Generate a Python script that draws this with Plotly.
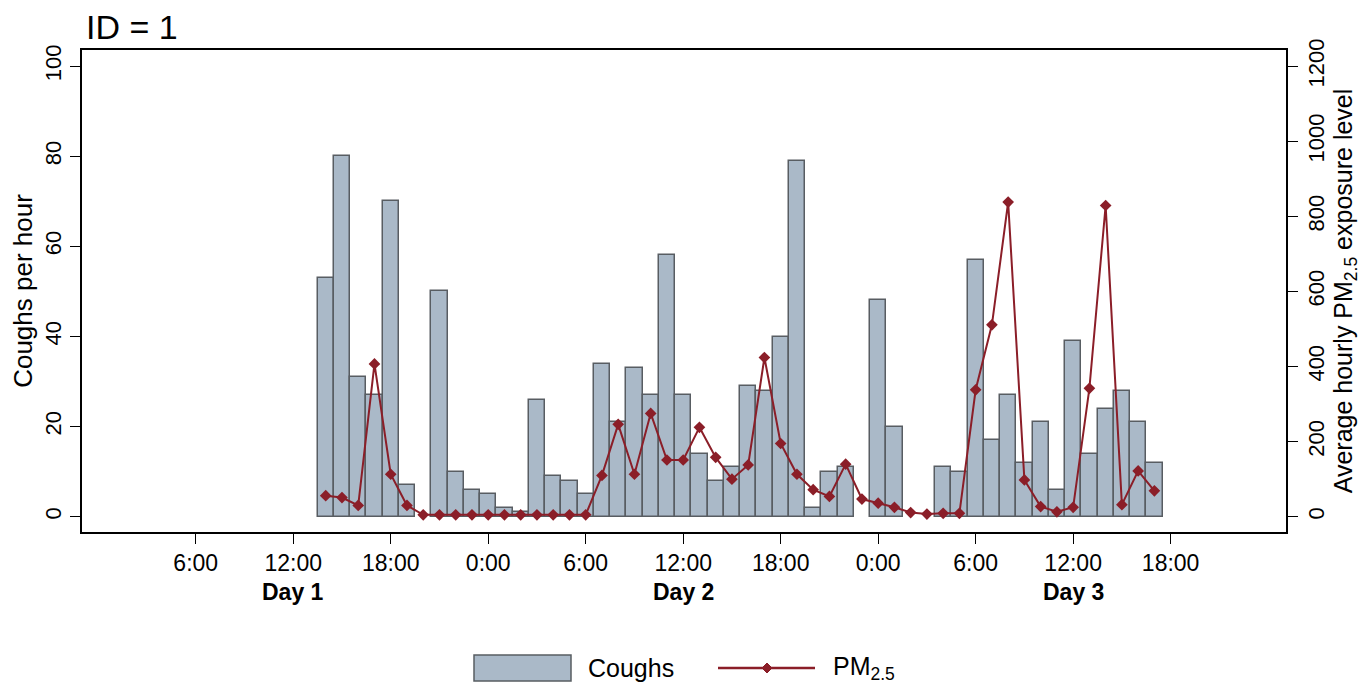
import plotly.graph_objects as go

# Hours since Day 1 00:00
hours = list(range(14, 66))

coughs = [53, 80, 31, 27, 70, 7, None, 50, 10, 6, 5, 2, 1, 26, 9, 8, 5, 34, 21,
          33, 27, 58, 27, 14, 8, 11, 29, 28, 40, 79, 2, 10, 11, None, 48, 20,
          None, None, 11, 10, 57, 17, 27, 12, 21, 6, 39, 14, 24, 28, 21, 12]

pm25 = [56, 51, 30, 407, 113, 30, 5, 5, 5, 5, 5, 5, 5, 5, 5, 5, 5, 110, 246,
        113, 275, 151, 151, 238, 158, 100, 138, 424, 195, 113, 72, 54, 140, 47,
        36, 25, 11, 7, 9, 9, 338, 511, 838, 98, 27, 13, 25, 342, 829, 32, 122, 69]

tick_hours = [6, 12, 18, 24, 30, 36, 42, 48, 54, 60, 66]
day_hours = [12, 36, 60]
day_names = ["Day 1", "Day 2", "Day 3"]
left_ticks = [0, 20, 40, 60, 80, 100]
right_ticks = [0, 200, 400, 600, 800, 1000, 1200]

tick_text = [f"{h % 24}:00" for h in tick_hours]

FONT = "Liberation Sans, Arial, Helvetica, sans-serif"
BAR_FILL = "#aab9c8"
BAR_EDGE = "#585d62"
LINE_COL = "#8b1e28"

W, H = 1361, 679
L, R, T, B = 74, 83, 42, 155
PW, PH = W - L - R, H - T - B

fig = go.Figure()
fig.add_trace(go.Bar(
    x=hours, y=coughs, name="Coughs", width=1,
    marker=dict(color=BAR_FILL, line=dict(color=BAR_EDGE, width=1.5)),
    yaxis="y", showlegend=False,
))
fig.add_trace(go.Scatter(
    x=hours, y=pm25, name="PM<sub>2.5</sub>", mode="lines+markers",
    line=dict(color=LINE_COL, width=2),
    marker=dict(symbol="diamond", size=9, color=LINE_COL),
    yaxis="y2", showlegend=False,
))

# Day labels under the 12:00 ticks
for h, name in zip(day_hours, day_names):
    fig.add_annotation(x=h, xref="x", y=-60 / PH, yref="paper", yanchor="middle",
                       text=f"<b>{name}</b>", showarrow=False,
                       font=dict(family=FONT, size=23, color="black"))


# Legend drawn below the plot (paper coordinates from pixel offsets)
def px(x):
    return (x - L) / PW


def py(y):
    return (PH + T - y) / PH


leg_y = 660
fig.add_shape(type="rect", xref="paper", yref="paper",
              x0=px(466), x1=px(563), y0=py(leg_y - 13), y1=py(leg_y + 13),
              fillcolor=BAR_FILL, line=dict(color=BAR_EDGE, width=1.5))
fig.add_annotation(x=px(578), y=py(leg_y), xref="paper", yref="paper",
                   xanchor="left", yanchor="middle", showarrow=False, text="Coughs",
                   font=dict(family=FONT, size=25, color="black"))
fig.add_shape(type="line", xref="paper", yref="paper",
              x0=px(710), x1=px(807), y0=py(leg_y), y1=py(leg_y),
              line=dict(color=LINE_COL, width=2.5))
cx, cy, d = 759, leg_y, 5
fig.add_shape(type="path", xref="paper", yref="paper",
              path=(f"M {px(cx - d)} {py(cy)} L {px(cx)} {py(cy - d)} "
                    f"L {px(cx + d)} {py(cy)} L {px(cx)} {py(cy + d)} Z"),
              fillcolor=LINE_COL, line=dict(color=LINE_COL, width=1))
fig.add_annotation(x=px(823), y=py(leg_y), xref="paper", yref="paper",
                   xanchor="left", yanchor="middle", showarrow=False,
                   text="PM<sub>2.5</sub>",
                   font=dict(family=FONT, size=25, color="black"))

fig.update_layout(
    width=W, height=H,
    margin=dict(l=L, r=R, t=T, b=B),
    paper_bgcolor="white", plot_bgcolor="white",
    bargap=0,
    showlegend=False,
    title=dict(text="ID = 1", x=78 / W, xref="container", xanchor="left",
               y=1 - 19 / H, yref="container", yanchor="middle",
               font=dict(family=FONT, size=34, color="black")),
    xaxis=dict(range=[-1, 73.1], tickvals=tick_hours, ticktext=tick_text,
               ticks="outside", ticklen=10, tickcolor="black", tickwidth=1.2,
               showline=True, linecolor="black", linewidth=1.5, mirror=True,
               showgrid=False, zeroline=False,
               tickfont=dict(family=FONT, size=23, color="black")),
    yaxis=dict(range=[-3.4, 103.6], tickvals=left_ticks,
               ticks="outside", ticklen=10, tickcolor="black", tickwidth=1.2,
               showline=True, linecolor="black", linewidth=1.5,
               showgrid=False, zeroline=False, tickangle=-90,
               tickfont=dict(family=FONT, size=22, color="black"),
               title=dict(text="Coughs per hour", standoff=4,
                          font=dict(family=FONT, size=26, color="black"))),
    yaxis2=dict(range=[-40.8, 1243.2], tickvals=right_ticks, overlaying="y", side="right",
                ticks="outside", ticklen=10, tickcolor="black", tickwidth=1.2,
                showline=True, linecolor="black", linewidth=1.5,
                showgrid=False, zeroline=False, tickangle=-90,
                tickfont=dict(family=FONT, size=22, color="black"),
                title=dict(text="Average hourly PM<sub>2.5</sub> exposure level", standoff=1,
                           font=dict(family=FONT, size=25, color="black"))),
)

fig.write_html("out.html")
